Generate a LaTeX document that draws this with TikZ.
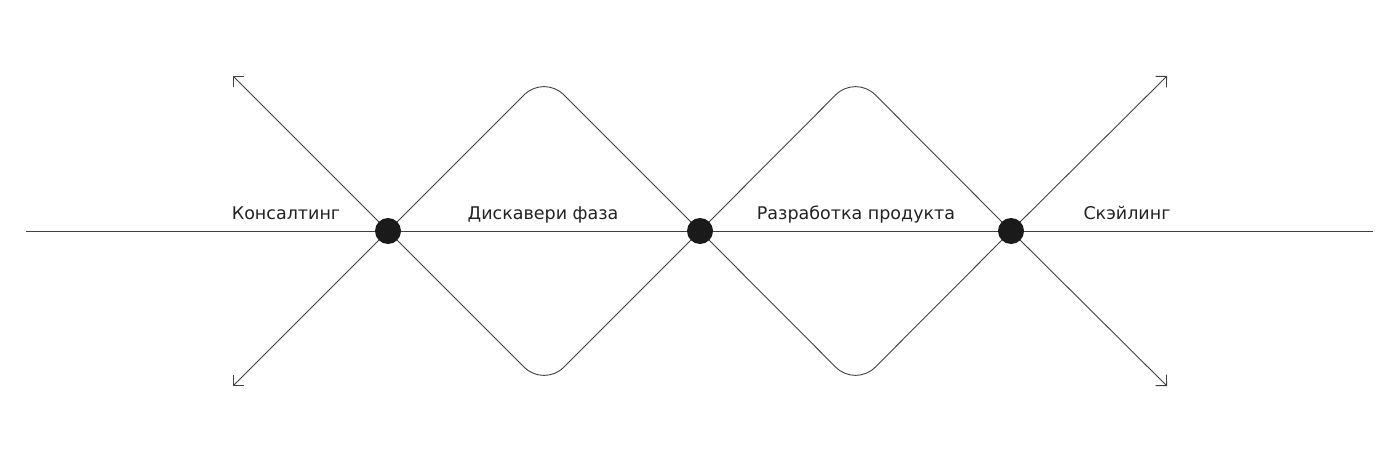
\documentclass[tikz,border=0pt]{standalone}
\usepackage{fontspec}
\setmainfont{DejaVu Sans}
\usetikzlibrary{arrows.meta,backgrounds}
\definecolor{linecol}{HTML}{404040}
\definecolor{dotcol}{HTML}{1A1A1A}
\definecolor{txtcol}{HTML}{222222}
\begin{document}
\begin{tikzpicture}[x=1pt,y=-1pt,
  line/.style={draw=linecol, line width=0.9pt},
  arr/.style={line, -{Straight Barb[angle=90:11pt]}},
  dot/.style={circle, fill=dotcol, minimum size=26pt, inner sep=0pt},
  lbl/.style={anchor=base, text=txtcol, font=\fontsize{17.5}{20}\selectfont, inner sep=0pt}]
\useasboundingbox (0,0) rectangle (1400,463);
% dots
\node[dot] (d1) at (388,231) {};
\node[dot] (d2) at (700,231) {};
\node[dot] (d3) at (1011,231) {};
% free ends
\coordinate (L) at (26,231);
\coordinate (R) at (1373,231);
\coordinate (a1) at (233,76);
\coordinate (a2) at (233,386);
\coordinate (a3) at (1167,76);
\coordinate (a4) at (1167,386);
\coordinate (t1) at (544,75);
\coordinate (b1) at (544,387);
\coordinate (t2) at (855.5,75);
\coordinate (b2) at (855.5,387);
\begin{scope}[on background layer]
\draw[line] (L) -- (R);
\draw[arr] (d1.center) -- (a1);
\draw[arr] (d1.center) -- (a2);
\draw[arr] (d3.center) -- (a3);
\draw[arr] (d3.center) -- (a4);
\draw[line, rounded corners=28pt] (d1.center) -- (t1) -- (d2.center);
\draw[line, rounded corners=28pt] (d1.center) -- (b1) -- (d2.center);
\draw[line, rounded corners=28pt] (d2.center) -- (t2) -- (d3.center);
\draw[line, rounded corners=28pt] (d2.center) -- (b2) -- (d3.center);
\end{scope}
% labels
\node[lbl] (l1) at (286,219.5) {Консалтинг};
\node[lbl] (l2) at (543,219.5) {Дискавери фаза};
\node[lbl] (l3) at (856,219.5) {Разработка продукта};
\node[lbl] (l4) at (1127,219.5) {Скэйлинг};
\end{tikzpicture}
\end{document}
